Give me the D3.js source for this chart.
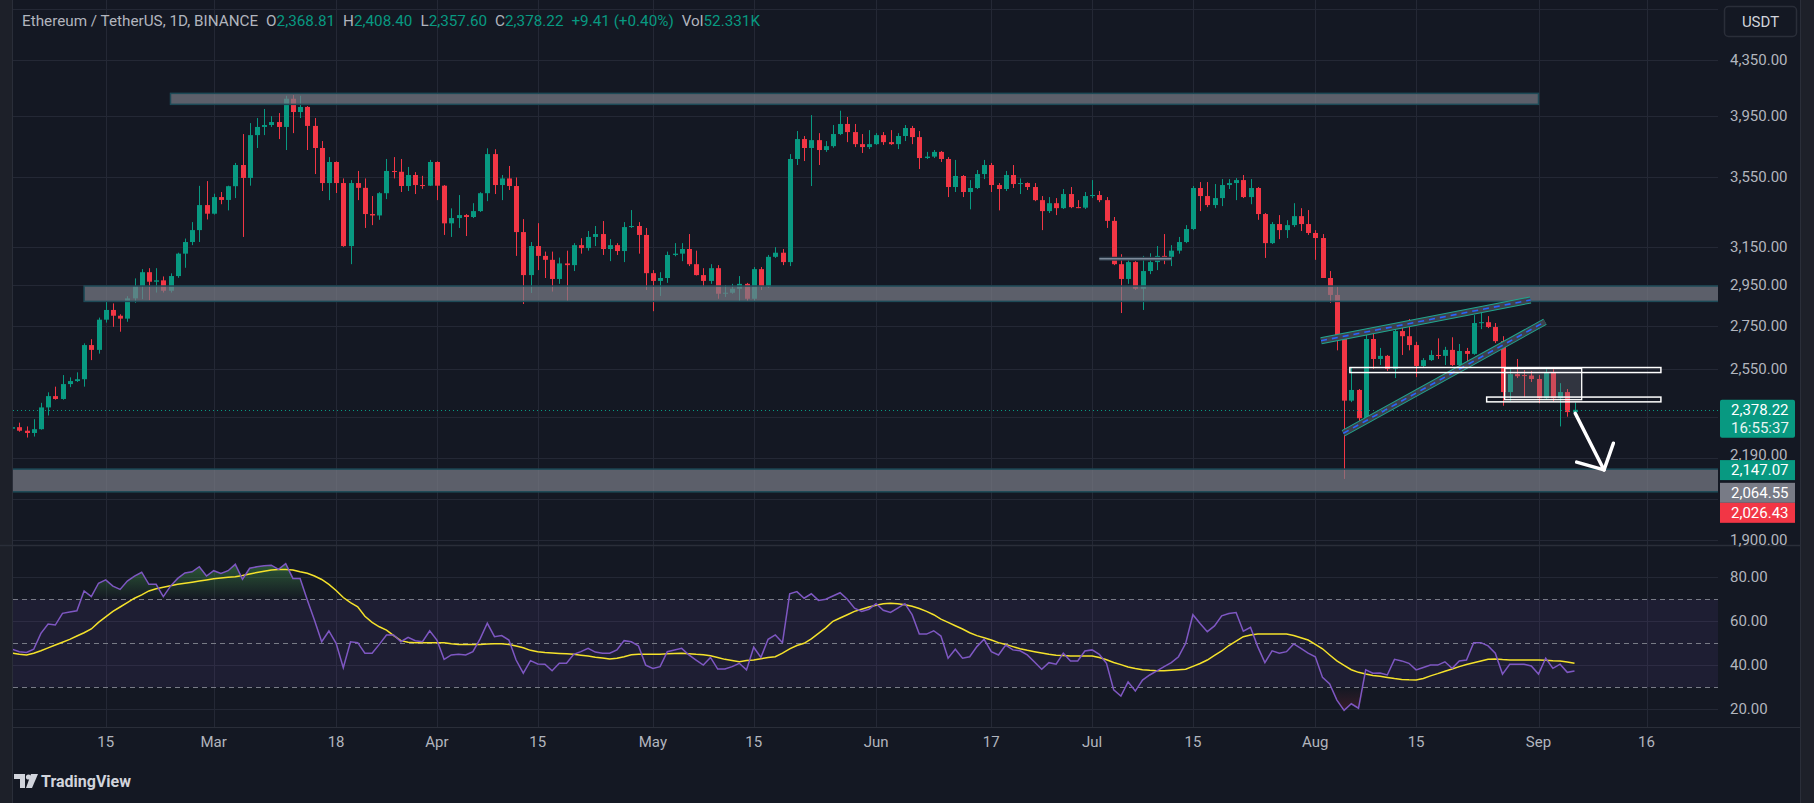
<!doctype html>
<html>
<head>
<meta charset="utf-8">
<script src="https://cdn.jsdelivr.net/npm/d3@7"></script>
<style>
html,body{margin:0;padding:0;background:#141823;overflow:hidden;}
svg{display:block;font-family:Roboto,"Noto Sans",sans-serif;}
</style>
</head>
<body>
<script>
// ETH/USDT daily candles, 2 Feb 2024 .. 6 Sep 2024
var startDay = "2024-02-02";

var opens = [2302,2308,2294,2285,2300,2388,2435,2423,2486,2499,
 2507,2659,2637,2778,2825,2797,2783,2882,2944,3015,
 2966,2973,2920,2995,3113,3176,3242,3385,3335,3432,
 3415,3497,3627,3547,3819,3873,3886,3906,3873,4066,
 3974,4009,3880,3735,3516,3646,3516,3154,3516,3487,
 3333,3325,3455,3590,3585,3498,3565,3504,3500,3646,
 3500,3280,3310,3327,3316,3350,3455,3696,3504,3544,
 3498,3231,3000,3154,3101,3080,2980,3061,3052,3159,
 3143,3204,3220,3138,3159,3127,3259,3265,3215,3010,
 2970,2985,3106,3113,3138,3057,3000,2970,3036,2905,
 2910,2930,2955,2880,3031,2939,3096,3118,3068,3665,
 3793,3735,3786,3722,3747,3826,3893,3839,3760,3741,
 3760,3819,3773,3760,3813,3866,3806,3671,3680,3710,
 3665,3492,3559,3462,3486,3571,3627,3504,3480,3565,
 3510,3516,3492,3414,3350,3396,3367,3450,3373,3370,
 3438,3444,3414,3294,3057,2980,3068,2930,3021,3068,
 3101,3096,3129,3176,3248,3486,3438,3385,3426,3504,
 3516,3534,3432,3486,3333,3170,3276,3242,3270,3321,
 3276,3226,3198,2985,2899,2692,2416,2461,2344,2687,
 2596,2610,2552,2724,2700,2659,2565,2591,2614,2610,
 2637,2569,2632,2619,2762,2766,2743,2677,2452,2529,
 2525,2523,2508,2426,2538,2426,2452,2368.81];

var highs = [2318,2326,2311,2340,2407,2451,2475,2525,2515,2537,
 2667,2686,2788,2870,2857,2804,2893,2983,3031,3036,
 3036,2993,3009,3118,3195,3287,3499,3528,3452,3462,
 3500,3640,3826,3899,3933,3995,3946,3967,4087,4092,
 4087,4015,3933,3780,3677,3650,3544,3534,3590,3544,
 3438,3461,3665,3677,3665,3615,3583,3560,3659,3650,
 3504,3366,3444,3333,3396,3461,3733,3727,3565,3621,
 3550,3304,3176,3281,3124,3124,3092,3129,3170,3197,
 3237,3265,3293,3192,3170,3287,3356,3287,3254,3026,
 3015,3124,3170,3170,3220,3129,3036,3057,3052,2949,
 2955,2995,2960,3042,3042,3106,3148,3138,3696,3846,
 3813,3953,3832,3780,3886,3983,3940,3893,3826,3852,
 3832,3839,3852,3832,3886,3880,3846,3710,3722,3716,
 3677,3659,3565,3534,3596,3659,3640,3516,3590,3627,
 3544,3520,3516,3438,3432,3426,3480,3492,3414,3462,
 3534,3468,3432,3316,3110,3084,3073,3101,3115,3154,
 3220,3159,3204,3270,3498,3522,3522,3510,3540,3540,
 3546,3565,3540,3492,3339,3287,3327,3298,3396,3367,
 3356,3242,3220,3021,2939,2697,2556,2465,2724,2714,
 2646,2614,2752,2752,2781,2674,2600,2635,2690,2651,
 2695,2664,2646,2800,2815,2795,2762,2700,2556,2596,
 2547,2543,2525,2560,2551,2490,2465,2408.40];

var lows = [2290,2290,2267,2271,2298,2355,2420,2420,2473,2495,
 2475,2591,2620,2764,2744,2721,2768,2860,2878,2873,
 2911,2911,2911,2986,3038,3159,3176,3302,3330,3390,
 3354,3426,3204,3500,3735,3819,3873,3793,3722,3832,
 3933,3722,3571,3468,3414,3456,3150,3057,3414,3254,
 3270,3300,3420,3544,3462,3468,3450,3481,3498,3414,
 3215,3204,3254,3209,3310,3345,3408,3450,3414,3474,
 3101,2854,2909,3026,2985,2916,2955,2865,3021,3113,
 3129,3154,3106,3073,3106,3068,3254,3113,2924,2819,
 2894,2960,3099,3073,3047,2998,2939,2955,2880,2889,
 2905,2865,2865,2865,2924,2934,3090,3052,3047,3627,
 3652,3498,3627,3710,3737,3819,3773,3741,3703,3728,
 3755,3755,3755,3728,3780,3760,3602,3665,3671,3646,
 3432,3462,3432,3360,3480,3540,3462,3354,3468,3486,
 3450,3474,3408,3242,3339,3327,3362,3367,3367,3362,
 3426,3402,3254,3052,2810,2955,2924,2825,3005,3026,
 3057,3047,3113,3170,3242,3350,3373,3367,3379,3480,
 3414,3426,3390,3300,3090,3165,3192,3198,3259,3237,
 3215,3080,2985,2860,2635,2111,2410,2307,2323,2552,
 2569,2543,2512,2614,2635,2516,2556,2587,2596,2569,
 2565,2538,2587,2615,2733,2738,2668,2395,2416,2512,
 2430,2495,2405,2420,2412,2311,2350,2357.60];

var closes = [2308,2294,2285,2300,2388,2435,2423,2486,2499,2507,
 2659,2637,2778,2825,2797,2783,2882,2944,3015,2966,
 2973,2920,2995,3113,3176,3242,3385,3335,3432,3415,
 3497,3627,3547,3819,3873,3886,3906,3873,4066,3974,
 4009,3880,3735,3516,3646,3516,3154,3516,3487,3333,
 3325,3455,3590,3585,3498,3565,3504,3500,3646,3500,
 3280,3310,3327,3316,3350,3455,3696,3504,3544,3498,
 3231,3000,3154,3101,3080,2980,3061,3052,3159,3143,
 3204,3220,3138,3159,3127,3259,3265,3215,3010,2970,
 2985,3106,3113,3138,3057,3000,2970,3036,2905,2910,
 2930,2955,2880,3031,2939,3096,3118,3068,3665,3793,
 3735,3786,3722,3747,3826,3893,3839,3760,3741,3760,
 3819,3773,3760,3813,3866,3806,3671,3680,3710,3665,
 3492,3559,3462,3486,3571,3627,3504,3480,3565,3510,
 3516,3492,3414,3350,3396,3367,3450,3373,3370,3438,
 3444,3414,3294,3057,2980,3068,2930,3021,3068,3101,
 3096,3129,3176,3248,3486,3438,3385,3426,3504,3516,
 3534,3432,3486,3333,3170,3276,3242,3270,3321,3276,
 3226,3198,2985,2899,2692,2416,2461,2344,2687,2596,
 2610,2552,2724,2700,2659,2565,2591,2614,2610,2637,
 2569,2632,2619,2762,2766,2743,2677,2452,2529,2520,
 2523,2508,2426,2538,2426,2452,2368.81,2378.22];

var rsi = [47.3,46.2,45.8,47.3,54.5,58.8,58.3,63.6,64.2,64.8,
 73.8,71.2,77.3,78.8,76,74.5,78.3,80.5,82.3,76.8,
 76.8,71.2,76,79.5,82,82.5,84.8,80.6,83,81.8,
 83,85.9,79.1,84.1,84.8,85.2,85.5,83.6,86.2,79.5,
 79.5,69.7,60.5,50.7,55.6,50,38.9,50.7,50.3,45.5,
 45.5,49.5,53.8,53.8,50.7,52.7,51.2,50.7,55.7,51.5,
 42.7,44.7,45,44.7,46.2,52,59.1,53,53.5,51.5,
 42.4,36.4,42.1,40.6,40.5,37.5,40.9,40.9,45,46.2,
 47.7,46,45.5,45.5,47,51.2,50.7,48.8,40.1,38.6,
 39.4,46.2,47,47.7,44.7,42.4,40.1,43.6,38.3,38.3,
 39.4,40.9,37.9,48.2,43.6,51.8,53.8,50.3,72.5,73.5,
 70.5,72.5,69.5,70,71.5,73,70,66,64.5,65.5,
 68,65,64,66,68,63,54.2,54.2,55.7,53.3,
 43.2,47.3,43.2,43.9,48.5,51.8,46.2,44.7,49.2,47,
 46.6,44.7,41.5,38.2,41.2,40.5,45.5,42,42,46.5,
 47,45,40.9,28.8,26,32.5,28.3,33.3,35.6,37.5,
 39.4,41.2,43.9,50,63,59,55.3,57.9,62.5,63.5,
 64,55.5,57.3,48.5,41.2,46.6,45.5,46.2,49.7,47.7,
 45.5,43.9,34.5,31.5,24.2,19.5,22.5,20.5,37.9,36.4,
 36.5,35.6,42.7,42,40.9,37.9,39,40.1,40.1,41.6,
 38.6,42,42.4,50.3,50.3,48.8,45.5,36,40.5,40.5,
 40.5,39.7,36,43.2,38.6,40.5,36.8,37.4];

var rsiMa = [45.5,45,44.7,45.5,46.6,47.9,49.2,50.5,51.8,53.3,
 54.8,56.5,59.5,62,64.5,66.5,68.5,70.5,72,73.8,
 74.8,75.5,76.2,76.8,77.3,77.8,78.3,78.8,79.3,79.7,
 80,80.3,80.8,81.5,82.2,82.8,83.3,83.5,83.6,83.3,
 82.5,81.8,80.6,79,76.8,74,70.8,68.5,66.6,62.3,
 59.5,57.5,56,53.5,51.2,50.5,50.3,50.3,50.3,50.3,
 50.2,49.8,49.5,49.5,49.5,49.5,49.7,49.8,49.8,49.5,
 48.8,48,46.8,46.2,45.8,45.6,45.4,45.2,45,44.6,
 44.2,43.7,43.3,42.9,43.2,43.9,44.8,45,45,45,
 45,45.2,45.4,45.5,45.3,45,44.8,44.3,43.5,42.7,
 42.2,41.6,42.2,42.4,43,43.5,43.9,45.5,47.5,49,
 50,52,54.5,57,60,61.5,63,64.5,65.5,66.5,
 67.3,68,68.2,68,67.5,66.8,65.8,64.5,63,61,
 59.5,58,56.5,54.8,53.5,52.5,51.5,50.3,49.5,48.5,
 47.5,46.8,46.2,45.6,45,44.6,44.4,44.2,44.2,44.2,
 44.2,43.5,42.5,41.3,40.3,39.2,38.5,38,37.7,37.5,
 37.5,37.8,38,38.2,39.5,40.8,42.4,44.5,46.5,49,
 51,53,53.8,54.2,54.2,54.2,54.2,54.2,53.5,52.5,
 51.5,49.5,47.5,44.7,42,40,38,36.8,36,35.4,
 35,34.5,34,33.6,33.4,33.3,34,35.2,36.2,37.3,
 38.3,39.4,40.4,41.2,42,42.7,42.9,42.6,42.4,42.4,
 42.4,42.4,42.4,42.3,42.1,42,41.5,40.9];

var priceTicks = [4750,4350,3950,3550,3150,2950,2750,2550,2350,2190,2040,1900];
var priceTickLabels = [4350,3950,3550,3150,2950,2750,2550,2190,1900];
var rsiTicks = [80,60,40,20];
var rsiLevels = [70,50,30];
var timeTickDates = ["2024-02-15","2024-03-01","2024-03-18","2024-04-01","2024-04-15","2024-05-01","2024-05-15","2024-06-01","2024-06-17","2024-07-01","2024-07-15","2024-08-01","2024-08-15","2024-09-01","2024-09-16"];
var timeTickLabels = ["15","Mar","18","Apr","15","May","15","Jun","17","Jul","15","Aug","15","Sep","16"];

// drawings, in [bar index, price]
var zones = [[22,212,4027,4104],[10,240,2867,2944],[-5,240,2064.55,2147.07]];
var channels = [[181.8,2679,210.9,2874],[184.9,2284,212.9,2768]];
var whiteBands = [[185.8,229,2536,2558],[204.8,229,2411,2431]];
var shadedBox = [207.3,218,2420,2554];
var levelLine = [151,161,3086];
var arrowPts = [[217.1,2364],[221.1,2144],[217.3,2173],[222.4,2245]];
var tagPrices = [2147.07,2064.55,2026.43];
var lastPrice = 2378.22;
var countdown = "16:55:37";

var W = 1814, H = 803;
var left = 13, right = 1718, paneSplit = 545, rsiBottom = 727;
var bg = "#141823", grid = "#242835", txt = "#b2b5be";
var up = "#089981", down = "#f23645";

var svg = d3.select("body").append("svg").attr("width", W).attr("height", H);
var defs = svg.append("defs");
defs.append("clipPath").attr("id","cp").append("rect").attr("x",left).attr("y",0).attr("width",right-left).attr("height",paneSplit);
defs.append("clipPath").attr("id","cr").append("rect").attr("x",left).attr("y",paneSplit+1).attr("width",right-left).attr("height",rsiBottom-paneSplit-1);
var gOb = defs.append("linearGradient").attr("id","gob").attr("x1",0).attr("x2",0).attr("y1",0).attr("y2",1).attr("gradientUnits","userSpaceOnUse");
var gOs = defs.append("linearGradient").attr("id","gos").attr("x1",0).attr("x2",0).attr("y1",0).attr("y2",1).attr("gradientUnits","userSpaceOnUse");

var t0 = new Date(startDay + "T00:00:00Z");
var x = d3.scaleLinear().domain([0, 217]).range([12.1, 1574.5]);
var y = d3.scaleLog().domain([1900, 4350]).range([540, 59.6]);
var yr = d3.scaleLinear().domain([20, 80]).range([709.3, 577.3]);

gOb.attr("y1", yr(100)).attr("y2", yr(70));
gOb.append("stop").attr("offset",0).attr("stop-color","rgb(76,175,80)").attr("stop-opacity",0.8);
gOb.append("stop").attr("offset",1).attr("stop-color","rgb(76,175,80)").attr("stop-opacity",0);
gOs.attr("y1", yr(30)).attr("y2", yr(0));
gOs.append("stop").attr("offset",0).attr("stop-color","rgb(242,54,69)").attr("stop-opacity",0);
gOs.append("stop").attr("offset",1).attr("stop-color","rgb(242,54,69)").attr("stop-opacity",0.45);

svg.append("rect").attr("width",W).attr("height",H).attr("fill",bg);
svg.append("rect").attr("x",0).attr("y",0).attr("width",12).attr("height",H).attr("fill","#1d2029");
svg.append("line").attr("x1",12.5).attr("x2",12.5).attr("y1",0).attr("y2",H).attr("stroke","#2a2e39");
svg.append("rect").attr("x",1800).attr("y",0).attr("width",14).attr("height",H).attr("fill","#1d2029");
svg.append("line").attr("x1",1800.5).attr("x2",1800.5).attr("y1",0).attr("y2",H).attr("stroke","#2a2e39");

// grid
var timeIdx = timeTickDates.map(function(d){ return d3.utcDay.count(t0, new Date(d + "T00:00:00Z")); });
svg.append("g").selectAll("line").data(timeIdx).enter().append("line")
  .attr("x1",function(d){return Math.round(x(d))+0.5;}).attr("x2",function(d){return Math.round(x(d))+0.5;})
  .attr("y1",0).attr("y2",rsiBottom).attr("stroke",grid);
svg.append("g").selectAll("line").data(priceTicks).enter().append("line")
  .attr("x1",left).attr("x2",right).attr("y1",function(d){return Math.round(y(d))+0.5;}).attr("y2",function(d){return Math.round(y(d))+0.5;})
  .attr("stroke",grid);
svg.append("g").selectAll("line").data(rsiTicks).enter().append("line")
  .attr("x1",left).attr("x2",right).attr("y1",function(d){return Math.round(yr(d))+0.5;}).attr("y2",function(d){return Math.round(yr(d))+0.5;})
  .attr("stroke",grid);

// price pane
var pp = svg.append("g").attr("clip-path","url(#cp)");
var bars = d3.range(closes.length);

var cg = pp.append("g");
cg.selectAll("line").data(bars).enter().append("line")
  .attr("x1",function(i){return Math.round(x(i))+0.5;}).attr("x2",function(i){return Math.round(x(i))+0.5;})
  .attr("y1",function(i){return y(highs[i]);}).attr("y2",function(i){return y(lows[i]);})
  .attr("stroke",function(i){return closes[i]>=opens[i]?up:down;});
cg.selectAll("rect").data(bars).enter().append("rect")
  .attr("x",function(i){return Math.round(x(i))-2;}).attr("width",5)
  .attr("y",function(i){return y(Math.max(opens[i],closes[i]));})
  .attr("height",function(i){return Math.max(1, Math.abs(y(opens[i])-y(closes[i])));})
  .attr("fill",function(i){return closes[i]>=opens[i]?up:down;});

// zones
pp.append("g").selectAll("rect").data(zones).enter().append("rect")
  .attr("x",function(d){return x(d[0]);}).attr("width",function(d){return x(d[1])-x(d[0]);})
  .attr("y",function(d){return y(d[3]);}).attr("height",function(d){return y(d[2])-y(d[3]);})
  .attr("fill","rgba(120,123,134,0.72)").attr("stroke","#1d4a57").attr("stroke-width",1.5);

// thin level line
pp.append("line").attr("x1",x(levelLine[0])).attr("x2",x(levelLine[1]))
  .attr("y1",y(levelLine[2])).attr("y2",y(levelLine[2])).attr("stroke","#2c3a48").attr("stroke-width",4);
pp.append("line").attr("x1",x(levelLine[0])).attr("x2",x(levelLine[1]))
  .attr("y1",y(levelLine[2])).attr("y2",y(levelLine[2])).attr("stroke","#7d8a9a").attr("stroke-width",1.5);

// wedge channels
channels.forEach(function(c){
  var a = [x(c[0]), y(c[1])], b = [x(c[2]), y(c[3])];
  pp.append("line").attr("x1",a[0]).attr("y1",a[1]).attr("x2",b[0]).attr("y2",b[1]).attr("stroke","#1fa88f").attr("stroke-width",7);
  pp.append("line").attr("x1",a[0]).attr("y1",a[1]).attr("x2",b[0]).attr("y2",b[1]).attr("stroke","#3d404b").attr("stroke-width",5);
  pp.append("line").attr("x1",a[0]).attr("y1",a[1]).attr("x2",b[0]).attr("y2",b[1]).attr("stroke","#2962ff").attr("stroke-width",1.6).attr("stroke-dasharray","6,5");
});

// white boxes
pp.append("rect").attr("x",x(shadedBox[0])).attr("width",x(shadedBox[1])-x(shadedBox[0]))
  .attr("y",y(shadedBox[3])).attr("height",y(shadedBox[2])-y(shadedBox[3]))
  .attr("fill","rgba(120,123,134,0.3)").attr("stroke","#ffffff").attr("stroke-width",1.3);
pp.append("g").selectAll("rect").data(whiteBands).enter().append("rect")
  .attr("x",function(d){return x(d[0]);}).attr("width",function(d){return x(d[1])-x(d[0]);})
  .attr("y",function(d){return y(d[3]);}).attr("height",function(d){return y(d[2])-y(d[3]);})
  .attr("fill","none").attr("stroke","#ffffff").attr("stroke-width",1.5);

// last price dotted line
pp.append("line").attr("x1",left).attr("x2",right).attr("y1",Math.round(y(lastPrice))+0.5).attr("y2",Math.round(y(lastPrice))+0.5)
  .attr("stroke",up).attr("stroke-width",1).attr("stroke-dasharray","1,3");

// arrow
var ap = arrowPts.map(function(p){return [x(p[0]), y(p[1])];});
var ag = pp.append("g").attr("stroke","#ffffff").attr("stroke-width",3.5).attr("stroke-linecap","round").attr("fill","none");
ag.append("line").attr("x1",ap[0][0]).attr("y1",ap[0][1]).attr("x2",ap[1][0]).attr("y2",ap[1][1]);
ag.append("path").attr("d","M"+ap[2]+"L"+ap[1]+"L"+ap[3]).attr("stroke-linejoin","round");

// RSI pane
svg.append("line").attr("x1",0).attr("x2",1800).attr("y1",paneSplit+0.5).attr("y2",paneSplit+0.5).attr("stroke","#2a2e39").attr("stroke-width",1.5);
var rp = svg.append("g").attr("clip-path","url(#cr)");
rp.append("rect").attr("x",left).attr("width",right-left).attr("y",yr(70)).attr("height",yr(30)-yr(70)).attr("fill","rgba(126,87,194,0.1)");
rp.append("g").selectAll("line").data(rsiLevels).enter().append("line")
  .attr("x1",left).attr("x2",right).attr("y1",function(d){return Math.round(yr(d))+0.5;}).attr("y2",function(d){return Math.round(yr(d))+0.5;})
  .attr("stroke","#787b86").attr("stroke-dasharray","5,4");
rp.append("path").datum(bars).attr("fill","url(#gob)")
  .attr("d", d3.area().x(function(i){return x(i);}).y0(yr(70)).y1(function(i){return yr(Math.max(rsi[i],70));}));
rp.append("path").datum(bars).attr("fill","url(#gos)")
  .attr("d", d3.area().x(function(i){return x(i);}).y0(yr(30)).y1(function(i){return yr(Math.min(rsi[i],30));}));
rp.append("path").datum(bars).attr("fill","none").attr("stroke","#f5e22b").attr("stroke-width",1.5)
  .attr("d", d3.line().x(function(i){return x(i);}).y(function(i){return yr(rsiMa[i]);}));
rp.append("path").datum(bars).attr("fill","none").attr("stroke","#7e57c2").attr("stroke-width",1.5)
  .attr("d", d3.line().x(function(i){return x(i);}).y(function(i){return yr(rsi[i]);}));
svg.append("line").attr("x1",left).attr("x2",1800).attr("y1",rsiBottom+0.5).attr("y2",rsiBottom+0.5).attr("stroke","#2a2e39");

// axis labels
var fmt = d3.format(",.2f");
svg.append("g").selectAll("text").data(priceTickLabels).enter().append("text")
  .attr("x",1730).attr("y",function(d){return d === 2190 ? y(d)+2 : y(d)+5;}).attr("fill",txt).attr("font-size",15).text(function(d){return fmt(d);});
svg.append("g").selectAll("text").data(rsiTicks).enter().append("text")
  .attr("x",1730).attr("y",function(d){return yr(d)+5;}).attr("fill",txt).attr("font-size",15).text(function(d){return fmt(d);});
svg.append("g").selectAll("text").data(timeIdx).enter().append("text")
  .attr("x",function(d){return x(d);}).attr("y",rsiBottom+20).attr("text-anchor","middle")
  .attr("fill",txt).attr("font-size",15).text(function(d,k){return timeTickLabels[k];});

// price tags
var tg = svg.append("g");
var cy = y(lastPrice);
tg.append("rect").attr("x",1720).attr("y",cy-10).attr("width",75).attr("height",38).attr("rx",2).attr("fill",up);
tg.append("text").attr("x",1731).attr("y",cy+5).attr("fill","#fff").attr("font-size",15).text(fmt(lastPrice));
tg.append("text").attr("x",1731).attr("y",cy+23).attr("fill","#fff").attr("font-size",15).attr("opacity",0.9).text(countdown);
var tagColors = [up, "#787b86", down];
var prevBottom = -1;
tagPrices.forEach(function(p, k){
  var top = Math.max(y(p) - 9, prevBottom);
  tg.append("rect").attr("x",1720).attr("y",top).attr("width",75).attr("height",20).attr("fill",tagColors[k]);
  tg.append("text").attr("x",1731).attr("y",top+15).attr("fill","#fff").attr("font-size",15).text(fmt(p));
  prevBottom = top + 20;
});

// currency button
svg.append("rect").attr("x",1724.5).attr("y",6.5).attr("width",72).attr("height",30).attr("rx",4)
  .attr("fill",bg).attr("stroke","#2a2e39").attr("stroke-width",1.5);
svg.append("text").attr("x",1760.5).attr("y",27).attr("text-anchor","middle").attr("fill","#d1d4dc").attr("font-size",15).text("USDT");

// header legend
var hd = svg.append("text").attr("x",22).attr("y",26).attr("font-size",15.25).attr("fill",txt);
hd.append("tspan").text("Ethereum / TetherUS, 1D, BINANCE");
var legend = [["O",fmt(opens[217])],["H",fmt(highs[217])],["L",fmt(lows[217])],["C",fmt(closes[217])]];
legend.forEach(function(p){
  hd.append("tspan").attr("dx",8).text(p[0]);
  hd.append("tspan").attr("fill",up).text(p[1]);
});
var chg = closes[217] - closes[216];
hd.append("tspan").attr("dx",8).attr("fill",up).text("+" + chg.toFixed(2) + " (+" + (chg/closes[216]*100).toFixed(2) + "%)");
hd.append("tspan").attr("dx",8).text("Vol");
hd.append("tspan").attr("fill",up).text("52.331K");

// TradingView logo
var lg = svg.append("g").attr("fill","#d1d4dc");
lg.append("path").attr("d","M14,774h11v14h-5v-9h-6z");
lg.append("circle").attr("cx",28.5).attr("cy",777).attr("r",2.6);
lg.append("path").attr("d","M31,774h7l-6,14h-6z");
svg.append("text").attr("x",41).attr("y",787).attr("fill","#d1d4dc").attr("font-size",16).attr("font-weight",700).text("TradingView");
</script>
</body>
</html>
